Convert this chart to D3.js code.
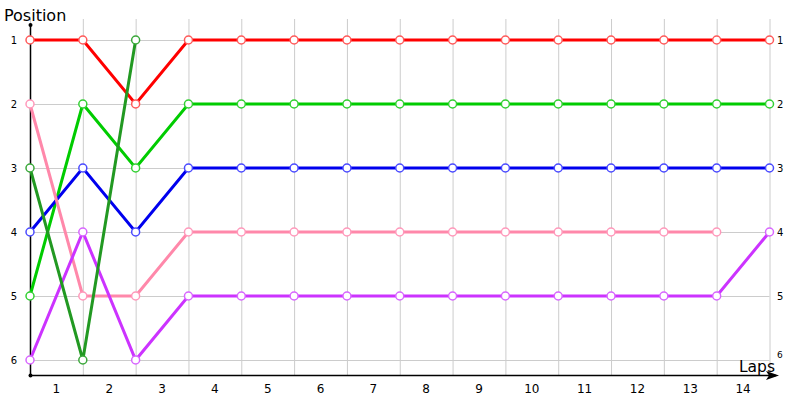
<!DOCTYPE html>
<html><head><meta charset="utf-8">
<script src="https://cdn.jsdelivr.net/npm/d3@7"></script>
<style>body{margin:0;background:#fff}svg{display:block}text{font-family:Tahoma,"DejaVu Sans",sans-serif}</style>
</head><body><svg id="c" width="800" height="400"></svg>
<script>
const laps = [1,2,3,4,5,6,7,8,9,10,11,12,13,14];
const positions = [1,2,3,4,5,6];
const seriesNames = ["Red","Green","Blue","Pink","Purple","DarkGreen"];
const red       = [1,1,2,1,1,1,1,1,1,1,1,1,1,1,1];
const green     = [5,2,3,2,2,2,2,2,2,2,2,2,2,2,2];
const blue      = [4,3,4,3,3,3,3,3,3,3,3,3,3,3,3];
const pink      = [2,5,5,4,4,4,4,4,4,4,4,4,4,4];
const purple    = [6,4,6,5,5,5,5,5,5,5,5,5,5,5,4];
const darkGreen = [3,6,1];
const lineColors   = ["#ff0000","#00cc00","#0000ee","#ff88aa","#cc33ff","#229922"];
const markerColors = ["#ff5a5a","#33d033","#4a4aff","#ff99bb","#d866ff","#3aa83a"];
const allSeries = [red,green,blue,pink,purple,darkGreen];

const svg = d3.select("#c");
const x = d3.scaleLinear().domain([0,14]).range([30,769.5]);
const y = d3.scaleLinear().domain([1,6]).range([40,360]);

// grid
const g = svg.append("g");
g.selectAll(".vg").data(d3.range(0,15)).join("line")
  .attr("x1",d=>x(d)+0.5).attr("x2",d=>x(d)+0.5).attr("y1",19).attr("y2",375)
  .attr("stroke","#cccccc").attr("stroke-width",1);
g.selectAll(".hg").data(positions).join("line")
  .attr("x1",27).attr("x2",x(14)).attr("y1",d=>y(d)+0.5).attr("y2",d=>y(d)+0.5)
  .attr("stroke","#cccccc").attr("stroke-width",1);

// axes
svg.append("line").attr("x1",30.5).attr("x2",30.5).attr("y1",25).attr("y2",375).attr("stroke","#000").attr("stroke-width",1.5);
svg.append("circle").attr("cx",30.5).attr("cy",25).attr("r",2).attr("fill","#000");
svg.append("circle").attr("cx",30.5).attr("cy",375.5).attr("r",2).attr("fill","#000");
svg.append("line").attr("x1",30).attr("x2",776).attr("y1",375.5).attr("y2",375.5).attr("stroke","#000").attr("stroke-width",1.5);
svg.append("path").attr("d","M766,371 L779,375.5 L766,380 L769,375.5 Z").attr("fill","#000");

// labels
svg.append("text").attr("x",4).attr("y",21).attr("font-size",16).attr("fill","#000").text("Position");
svg.append("text").attr("x",775).attr("y",372).attr("text-anchor","end").attr("font-size",15.5).attr("fill","#000").text("Laps");
svg.selectAll(".yl").data(positions).join("text")
  .attr("x",14).attr("y",d=>y(d)+3.5).attr("text-anchor","middle").attr("font-size",10).text(d=>d);
svg.selectAll(".yr").data(positions).join("text")
  .attr("x",777).attr("y",d=>d===6 ? y(d)-2.5 : y(d)+3.5).attr("font-size",d=>d===6?9:10).text(d=>d);
svg.selectAll(".xl").data(laps).join("text")
  .attr("x",d=>(x(d-1)+x(d))/2).attr("y",393).attr("text-anchor","middle").attr("font-size",12).text(d=>d);

// series
const line = d3.line().x((d,i)=>x(i)).y(d=>y(d));
const order = [0,1,2,3,4,5];
order.forEach(k=>{
  svg.append("path").datum(allSeries[k]).attr("d",line).attr("fill","none")
    .attr("stroke",lineColors[k]).attr("stroke-width",3).attr("stroke-linejoin","miter");
});
order.forEach(k=>{
  svg.append("g").selectAll("circle").data(allSeries[k]).join("circle")
    .attr("cx",(d,i)=>x(i)).attr("cy",d=>y(d)).attr("r",4)
    .attr("fill","#fff").attr("stroke",markerColors[k]).attr("stroke-width",1.5);
});
</script></body></html>
